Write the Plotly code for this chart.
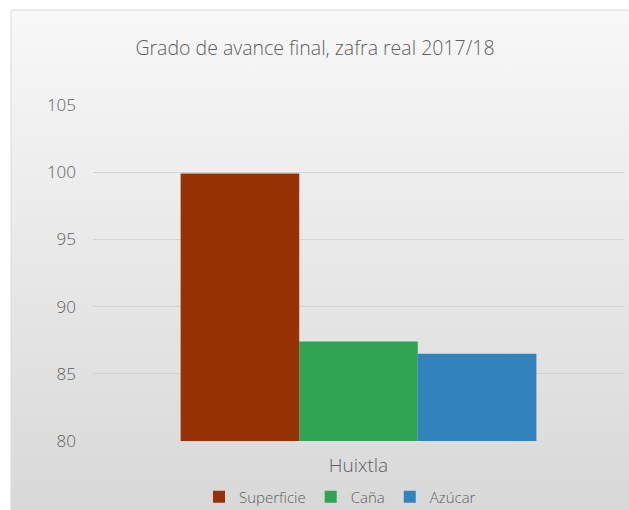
import base64
import plotly.graph_objects as go

categories = ["Huixtla"]
series_names = ["Superficie", "Caña", "Azúcar"]
superficie = [99.9]
cana = [87.4]
azucar = [86.5]
series_values = [superficie, cana, azucar]
colors = ["#963203", "#31a354", "#3182bd"]
title_text = "Grado de avance final, zafra real 2017/18"
y_ticks = [80, 85, 90, 95, 100, 105]

W, H = 629, 510
L, R, T, B = 93, 5, 105, 69
pw, ph = W - L - R, H - T - B

FONT = "Open Sans"
GREY = "#5f5f5f"

fig = go.Figure()
for name, vals, col in zip(series_names, series_values, colors):
    fig.add_trace(go.Bar(x=categories, y=vals, name=name,
                         marker=dict(color=col, line=dict(width=0))))

svg = ('<svg xmlns="http://www.w3.org/2000/svg" width="100" height="100" preserveAspectRatio="none">'
       '<defs><linearGradient id="g" x1="0" y1="0" x2="0" y2="1">'
       '<stop offset="0" stop-color="#f8f8f8"/><stop offset="1" stop-color="#d8d8d8"/>'
       '</linearGradient></defs><rect width="100" height="100" fill="url(#g)"/></svg>')
uri = "data:image/svg+xml;base64," + base64.b64encode(svg.encode()).decode()

def px_x(p):
    return (p - L) / pw

def px_y(p):
    return 1 - (p - T) / ph

x0, x1 = px_x(11), px_x(W + 2)
y0, y1 = px_y(H + 2), px_y(10)

fig.add_layout_image(dict(source=uri, xref="paper", yref="paper",
                          x=x0, y=y1, sizex=x1 - x0, sizey=y1 - y0,
                          sizing="stretch", xanchor="left", yanchor="top",
                          layer="below"))
fig.add_shape(type="rect", xref="paper", yref="paper",
              x0=x0, x1=x1, y0=y0, y1=y1,
              line=dict(color="#d9d9d9", width=1), layer="below")

fig.update_layout(
    width=W, height=H,
    margin=dict(l=L, r=R, t=T, b=B, autoexpand=False),
    paper_bgcolor="white",
    plot_bgcolor="rgba(0,0,0,0)",
    barmode="group", bargap=0.33, bargroupgap=0,
    font=dict(family=FONT, color=GREY, weight=300),
    title=dict(text=title_text, x=315 / W, xref="container", xanchor="center",
               y=1 - 48 / H, yref="container", yanchor="middle",
               font=dict(family=FONT, size=19.5, color=GREY, weight=300)),
    showlegend=True,
    legend=dict(orientation="h", xref="container", yref="container",
                x=340 / W, xanchor="center", y=1 - 497 / H, yanchor="middle",
                font=dict(family=FONT, size=15, color=GREY, weight=300),
                itemwidth=30, tracegroupgap=0, bgcolor="rgba(0,0,0,0)"),
    xaxis=dict(showgrid=False, showline=False, zeroline=False, ticks="",
               ticklabelstandoff=11,
               tickfont=dict(family=FONT, size=19, color=GREY, weight=300)),
    yaxis=dict(range=[80, 105], tickvals=y_ticks, showgrid=True,
               gridcolor="#d3d3d3", gridwidth=1, zeroline=False, showline=False,
               ticks="", ticklabelstandoff=16,
               tickfont=dict(family=FONT, size=17, color=GREY, weight=300)),
)

fig.write_html("out.html", config={"displayModeBar": False},
               post_script="document.body.style.margin='0';document.body.style.overflow='hidden';")
